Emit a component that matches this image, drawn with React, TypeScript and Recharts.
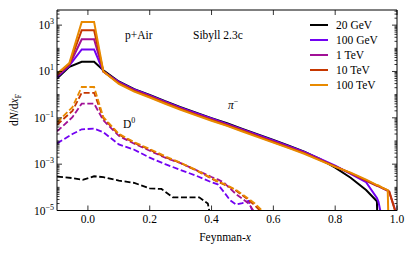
import React from "react";
import { LineChart, Line, XAxis, YAxis } from "recharts";

const energies = ["20 GeV", "100 GeV", "1 TeV", "10 TeV", "100 TeV"];
const colors = ["#000000", "#7202f2", "#a11096", "#c63700", "#e88a00"];

// pi- spectra (solid)
const xPi = [-0.1, -0.06, -0.02, 0.02, 0.05, 0.1, 0.15, 0.2, 0.25, 0.3, 0.35, 0.4, 0.45, 0.5, 0.55, 0.6, 0.65, 0.7, 0.75, 0.8, 0.85, 0.9, 0.935, 0.94, 0.955, 0.97, 0.975, 0.997];
const pi20G = [5.0, 15.8, 26.3, 26.3, 11.2, 3.7, 1.74, 0.97, 0.52, 0.29, 0.165, 0.097, 0.058, 0.033, 0.019, 0.011, 0.0063, 0.0035, 0.0017, 7.1e-4, 2.6e-4, 7.6e-5, 2.5e-5, 1e-7, null, null, null, null];
const pi100G = [5.6, 17.8, 89, 89, 10, 3.55, 1.66, 0.93, 0.5, 0.275, 0.158, 0.093, 0.055, 0.0316, 0.0182, 0.0105, 0.006, 0.0034, 0.00174, 8.7e-4, 3.8e-4, 1.66e-4, 3.5e-5, 2.4e-5, 2.5e-6, null, null, null];
const pi1T = [6.3, 19, 245, 245, 10, 3.25, 1.52, 0.85, 0.46, 0.25, 0.144, 0.085, 0.05, 0.029, 0.0166, 0.0096, 0.0055, 0.0031, 0.0016, 8.0e-4, 4.0e-4, 1.9e-4, 1.15e-4, 1.1e-4, 8.9e-5, 7.1e-5, 6.3e-5, 8e-6];
const pi10T = [7.1, 21, 603, 603, 10, 3.1, 1.45, 0.81, 0.435, 0.24, 0.137, 0.081, 0.048, 0.0275, 0.0158, 0.0091, 0.0052, 0.003, 0.00152, 7.9e-4, 4.1e-4, 2.0e-4, 1.2e-4, 1.15e-4, 9.1e-5, 7.4e-5, 6.5e-5, 7e-6];
const pi100T = [7.9, 23, 1380, 1380, 10, 2.9, 1.35, 0.75, 0.405, 0.223, 0.128, 0.075, 0.045, 0.0256, 0.0147, 0.0085, 0.0049, 0.0028, 0.00145, 7.6e-4, 4.3e-4, 2.15e-4, 1.25e-4, 1.2e-4, 9.3e-5, 7.6e-5, 1e-7, null];

// D0 spectra (dashed)
const xD = [-0.1, -0.05, -0.02, 0.02, 0.05, 0.1, 0.15, 0.2, 0.25, 0.3, 0.35, 0.4, 0.42, 0.44, 0.46, 0.48, 0.5, 0.52, 0.54, 0.56, 0.57];
const d100G = [0.0079, 0.02, 0.032, 0.034, 0.024, 0.0071, 0.0042, 0.0019, 0.001, 5.6e-4, 3.2e-4, 1.66e-4, 1.35e-4, 6.3e-5, 2.8e-5, 1.8e-5, 2.1e-5, 2.6e-5, 5e-6, null, null];
const d1T = [0.026, 0.107, 0.41, 0.41, 0.078, 0.0166, 0.0076, 0.0038, 0.0019, 0.0011, 5.6e-4, 2.8e-4, 2.2e-4, 1.6e-4, 8.9e-5, 5.0e-5, 3.2e-5, 2.0e-5, 7.9e-6, null, null];
const d10T = [0.05, 0.2, 1.2, 1.2, 0.095, 0.019, 0.0083, 0.0042, 0.002, 0.00112, 5.4e-4, 2.4e-4, 1.74e-4, 1.32e-4, 1.0e-4, 7.1e-5, 4.5e-5, 2.8e-5, 1.66e-5, 8.9e-6, null];
const d100T = [0.063, 0.29, 2.14, 2.14, 0.107, 0.0204, 0.0089, 0.0045, 0.0022, 0.00115, 5.6e-4, 2.5e-4, 1.8e-4, 1.4e-4, 1.05e-4, 7.6e-5, 5.0e-5, 3.2e-5, 2.0e-5, 1.1e-5, 5e-6];
const xD20 = [-0.1, -0.05, -0.017, 0.02, 0.05, 0.1, 0.15, 0.2, 0.238, 0.275, 0.36, 0.388, 0.4];
const d20G = [2.9e-4, 2.5e-4, 2.1e-4, 3.0e-4, 2.75e-4, 1.95e-4, 1.55e-4, 9e-5, 8.5e-5, 3.7e-5, 3.7e-5, 2.0e-5, 3e-6];

const xTicks = [0, 0.2, 0.4, 0.6, 0.8, 1.0];
const xTickLabels = ["0.0", "0.2", "0.4", "0.6", "0.8", "1.0"];
const yMajor = [1e-5, 1e-3, 1e-1, 1e1, 1e3];
const yMajorExp = ["−5", "−3", "−1", "1", "3"];
const yDecades = [1e-5, 1e-4, 1e-3, 1e-2, 1e-1, 1, 1e1, 1e2, 1e3];
const yMantissas = [1, 2, 3, 4, 5, 6, 7, 8, 9];
const yTicks = yDecades.flatMap((d) => yMantissas.map((m) => m * d)).filter((v) => v < 4500);

const FONT = "'Liberation Serif', 'DejaVu Serif', serif";

const rows = (xs: number[], vals: (number | null)[]) => xs.map((x, i) => ({ x, v: vals[i] }));
const majorIdx = (v: number) => yMajor.findIndex((m) => Math.abs(v / m - 1) < 1e-6);

function LeftTick({ x, y, payload }: any) {
  const i = majorIdx(payload.value);
  return (
    <g>
      <line x1={x} x2={x + (i >= 0 ? 5 : 2.5)} y1={y} y2={y} stroke="#000" strokeWidth={0.8} />
      {i >= 0 && (
        <text x={x - 3} y={y + 4} textAnchor="end" fontSize={11.5} fontFamily={FONT} fill="#000">
          10<tspan dy={-5} fontSize={8}>{yMajorExp[i]}</tspan>
        </text>
      )}
    </g>
  );
}

function RightTick({ x, y, payload }: any) {
  const i = majorIdx(payload.value);
  return <line x1={x} x2={x - (i >= 0 ? 5 : 2.5)} y1={y} y2={y} stroke="#000" strokeWidth={0.8} />;
}

function BottomTick({ x, y, payload }: any) {
  const i = xTicks.indexOf(payload.value);
  return (
    <g>
      <line x1={x} x2={x} y1={y} y2={y - 5} stroke="#000" strokeWidth={0.8} />
      <text x={x} y={y + 12.5} textAnchor="middle" fontSize={11.5} fontFamily={FONT} fill="#000">
        {xTickLabels[i]}
      </text>
    </g>
  );
}

function TopTick({ x, y }: any) {
  return <line x1={x} x2={x} y1={y} y2={y + 5} stroke="#000" strokeWidth={0.8} />;
}

const solid = [pi20G, pi100G, pi1T, pi10T, pi100T];
const dashed: [number[], (number | null)[]][] = [[xD20, d20G], [xD, d100G], [xD, d1T], [xD, d10T], [xD, d100T]];

export default function App() {
  return (
    <div style={{ position: "absolute", left: 0, top: 0, width: 415, height: 253, background: "#fff" }}>
      <LineChart width={415} height={253} margin={{ top: 0, right: 0, bottom: 0, left: 0 }}>
        <XAxis xAxisId="b" dataKey="x" type="number" domain={[-0.1, 1.0]} ticks={xTicks} interval={0}
          allowDataOverflow height={42.5} tickSize={0} tickMargin={0} tickLine={false}
          axisLine={{ stroke: "#000", strokeWidth: 1 }} tick={<BottomTick />} />
        <XAxis xAxisId="t" orientation="top" dataKey="x" type="number" domain={[-0.1, 1.0]} ticks={xTicks} interval={0}
          allowDataOverflow height={10} tickSize={0} tickMargin={0} tickLine={false}
          axisLine={{ stroke: "#000", strokeWidth: 1 }} tick={<TopTick />} />
        <YAxis yAxisId="l" type="number" scale="log" domain={[1e-5, 4500]} ticks={yTicks} interval={0}
          allowDataOverflow width={57} tickSize={0} tickMargin={0} tickLine={false}
          axisLine={{ stroke: "#000", strokeWidth: 1 }} tick={<LeftTick />} />
        <YAxis yAxisId="r" orientation="right" type="number" scale="log" domain={[1e-5, 4500]} ticks={yTicks} interval={0}
          allowDataOverflow width={18} tickSize={0} tickMargin={0} tickLine={false}
          axisLine={{ stroke: "#000", strokeWidth: 1 }} tick={<RightTick />} />
        {energies.map((e, k) => [
          <Line key={"s" + k} xAxisId="b" yAxisId="l" data={rows(xPi, solid[k])} dataKey="v" type="linear"
            stroke={colors[k]} strokeWidth={2} dot={false} isAnimationActive={false} />,
          <Line key={"d" + k} xAxisId="b" yAxisId="l" data={rows(dashed[k][0], dashed[k][1])} dataKey="v" type="linear"
            stroke={colors[k]} strokeWidth={1.8} strokeDasharray="6 2.6" dot={false} isAnimationActive={false} />,
        ])}
      </LineChart>
      <svg width={415} height={253} style={{ position: "absolute", left: 0, top: 0, pointerEvents: "none" }}
        fontFamily={FONT} fontSize={11.5} fill="#000">
        <text x={125} y={39}>p+Air</text>
        <text x={193} y={39}>Sibyll 2.3c</text>
        <text x={228} y={109}><tspan fontStyle="italic">π</tspan><tspan dy={-5} fontSize={8}>−</tspan></text>
        <text x={123} y={128}>D<tspan dy={-5} fontSize={8}>0</tspan></text>
        <text x={225} y={241} textAnchor="middle">Feynman-<tspan fontStyle="italic">x</tspan></text>
        <text transform="translate(18,110) rotate(-90)" textAnchor="middle">
          d<tspan fontStyle="italic">N</tspan>/d<tspan fontStyle="italic">x</tspan><tspan dy={3} fontSize={8}>F</tspan>
        </text>
        {energies.map((e, k) => (
          <g key={e}>
            <line x1={310} x2={328} y1={25 + 15 * k} y2={25 + 15 * k} stroke={colors[k]} strokeWidth={2} />
            <text x={336} y={29 + 15 * k}>{e}</text>
          </g>
        ))}
      </svg>
    </div>
  );
}
